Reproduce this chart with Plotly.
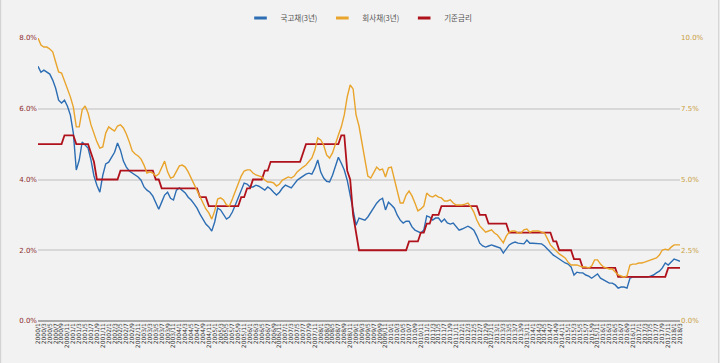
import plotly.graph_objects as go

# ---- data -------------------------------------------------------------
month_labels = [f"{y}/{m}" for y in range(2000, 2019) for m in range(1, 13)][:219]

ktb_3y = [  # 국고채(3년), left axis (%)
    7.20, 7.03, 7.09, 7.03, 6.98, 6.81, 6.58, 6.24, 6.16, 6.24,
    6.07, 5.82, 5.31, 4.27, 4.55, 5.06, 4.97, 4.89, 4.55, 4.10,
    3.84, 3.64, 4.12, 4.44, 4.49, 4.63, 4.77, 5.03, 4.83, 4.52,
    4.35, 4.24, 4.18, 4.12, 4.07, 3.98, 3.79, 3.70, 3.64, 3.53,
    3.33, 3.16, 3.36, 3.56, 3.64, 3.47, 3.42, 3.70, 3.76, 3.70,
    3.62, 3.50, 3.42, 3.31, 3.19, 3.02, 2.88, 2.74, 2.66, 2.54,
    2.80, 3.19, 3.14, 3.02, 2.88, 2.94, 3.08, 3.28, 3.50, 3.70,
    3.90, 3.87, 3.79, 3.79, 3.84, 3.81, 3.76, 3.70, 3.79, 3.73,
    3.64, 3.56, 3.64, 3.76, 3.84, 3.79, 3.76, 3.87, 3.98, 4.04,
    4.10, 4.15, 4.18, 4.15, 4.32, 4.55, 4.21, 4.04, 3.95, 3.93,
    4.12, 4.38, 4.63, 4.46, 4.27, 3.98, 3.56, 3.08, 2.71, 2.91,
    2.88, 2.85, 2.94, 3.08, 3.22, 3.33, 3.42, 3.47, 3.14, 3.36,
    3.28, 3.19, 2.99, 2.85, 2.77, 2.82, 2.82, 2.66, 2.57, 2.54,
    2.49, 2.57, 2.97, 2.94, 2.85, 2.91, 2.91, 2.80, 2.88, 2.77,
    2.74, 2.77, 2.66, 2.57, 2.60, 2.63, 2.68, 2.63, 2.57, 2.40,
    2.20, 2.12, 2.09, 2.12, 2.15, 2.12, 2.09, 2.06, 1.92, 2.03,
    2.15, 2.20, 2.23, 2.20, 2.18, 2.18, 2.29, 2.20, 2.20, 2.20,
    2.20, 2.18, 2.12, 2.03, 1.95, 1.86, 1.81, 1.75, 1.69, 1.64,
    1.61, 1.53, 1.30, 1.38, 1.36, 1.36, 1.30, 1.27, 1.21, 1.27,
    1.33, 1.21, 1.16, 1.10, 1.07, 1.07, 1.02, 0.93, 0.96, 0.96,
    0.93, 1.21, 1.24, 1.24, 1.24, 1.24, 1.24, 1.24, 1.27, 1.30,
    1.36, 1.41, 1.50, 1.64, 1.58, 1.67, 1.75, 1.72, 1.69,
]

corp_3y = [  # 회사채(3년), right axis (%)
    10.00, 9.75, 9.68, 9.68, 9.61, 9.51, 9.15, 8.80, 8.76, 8.48,
    8.20, 7.92, 7.56, 6.86, 6.86, 7.46, 7.60, 7.35, 6.93, 6.61,
    6.33, 6.11, 6.15, 6.64, 6.86, 6.78, 6.71, 6.89, 6.93, 6.82,
    6.61, 6.33, 6.01, 5.90, 5.83, 5.72, 5.51, 5.23, 5.27, 5.23,
    5.12, 5.19, 5.41, 5.65, 5.27, 5.05, 5.09, 5.30, 5.48, 5.51,
    5.44, 5.27, 5.05, 4.84, 4.56, 4.35, 4.17, 3.96, 3.82, 3.60,
    3.89, 4.31, 4.35, 4.28, 4.10, 4.06, 4.31, 4.59, 4.88, 5.12,
    5.30, 5.34, 5.34, 5.23, 5.16, 5.12, 5.09, 4.98, 4.91, 4.91,
    4.88, 4.77, 4.84, 4.98, 5.05, 5.09, 5.05, 5.12, 5.27, 5.37,
    5.44, 5.51, 5.62, 5.76, 6.04, 6.47, 6.40, 6.22, 5.87, 5.76,
    5.94, 6.22, 6.57, 6.86, 7.28, 7.92, 8.34, 8.20, 7.28, 6.89,
    6.33, 5.69, 5.12, 5.05, 5.27, 5.44, 5.34, 5.37, 5.09, 5.41,
    5.44, 4.98, 4.56, 4.17, 4.17, 4.45, 4.59, 4.42, 4.17, 3.89,
    3.96, 4.06, 4.52, 4.42, 4.38, 4.45, 4.38, 4.35, 4.24, 4.24,
    4.28, 4.17, 4.10, 4.10, 4.10, 4.13, 4.17, 4.03, 3.85, 3.57,
    3.36, 3.25, 3.14, 3.18, 3.22, 3.11, 3.04, 2.90, 2.76, 3.00,
    3.14, 3.18, 3.18, 3.11, 3.11, 3.22, 3.25, 3.14, 3.18, 3.18,
    3.18, 3.14, 3.11, 2.90, 2.69, 2.58, 2.47, 2.37, 2.30, 2.23,
    2.08, 1.98, 1.98, 1.98, 1.94, 1.91, 1.91, 1.87, 1.94, 2.16,
    2.16, 2.01, 1.91, 1.87, 1.84, 1.84, 1.73, 1.63, 1.59, 1.55,
    1.59, 1.98, 2.01, 2.01, 2.05, 2.05, 2.08, 2.12, 2.16, 2.19,
    2.23, 2.33, 2.51, 2.54, 2.51, 2.61, 2.69, 2.69, 2.69,
]

base_rate = [  # 기준금리, left axis (%)
    5.00, 5.00, 5.00, 5.00, 5.00, 5.00, 5.00, 5.00, 5.00, 5.25,
    5.25, 5.25, 5.25, 5.00, 5.00, 5.00, 5.00, 5.00, 4.75, 4.50,
    4.00, 4.00, 4.00, 4.00, 4.00, 4.00, 4.00, 4.00, 4.25, 4.25,
    4.25, 4.25, 4.25, 4.25, 4.25, 4.25, 4.25, 4.25, 4.25, 4.25,
    4.00, 4.00, 3.75, 3.75, 3.75, 3.75, 3.75, 3.75, 3.75, 3.75,
    3.75, 3.75, 3.75, 3.75, 3.75, 3.50, 3.50, 3.50, 3.25, 3.25,
    3.25, 3.25, 3.25, 3.25, 3.25, 3.25, 3.25, 3.25, 3.25, 3.50,
    3.50, 3.75, 3.75, 4.00, 4.00, 4.00, 4.00, 4.25, 4.25, 4.50,
    4.50, 4.50, 4.50, 4.50, 4.50, 4.50, 4.50, 4.50, 4.50, 4.50,
    4.75, 5.00, 5.00, 5.00, 5.00, 5.00, 5.00, 5.00, 5.00, 5.00,
    5.00, 5.00, 5.00, 5.25, 5.25, 4.25, 4.00, 3.00, 2.50, 2.00,
    2.00, 2.00, 2.00, 2.00, 2.00, 2.00, 2.00, 2.00, 2.00, 2.00,
    2.00, 2.00, 2.00, 2.00, 2.00, 2.00, 2.25, 2.25, 2.25, 2.25,
    2.50, 2.50, 2.75, 2.75, 3.00, 3.00, 3.00, 3.25, 3.25, 3.25,
    3.25, 3.25, 3.25, 3.25, 3.25, 3.25, 3.25, 3.25, 3.25, 3.25,
    3.00, 3.00, 3.00, 2.75, 2.75, 2.75, 2.75, 2.75, 2.75, 2.75,
    2.50, 2.50, 2.50, 2.50, 2.50, 2.50, 2.50, 2.50, 2.50, 2.50,
    2.50, 2.50, 2.50, 2.50, 2.50, 2.25, 2.25, 2.00, 2.00, 2.00,
    2.00, 2.00, 1.75, 1.75, 1.75, 1.50, 1.50, 1.50, 1.50, 1.50,
    1.50, 1.50, 1.50, 1.50, 1.50, 1.50, 1.50, 1.25, 1.25, 1.25,
    1.25, 1.25, 1.25, 1.25, 1.25, 1.25, 1.25, 1.25, 1.25, 1.25,
    1.25, 1.25, 1.25, 1.25, 1.50, 1.50, 1.50, 1.50, 1.50,
]

series_names = ["국고채(3년)", "회사채(3년)", "기준금리"]
left_ticks = [0, 2, 4, 6, 8]
right_ticks = [0, 2.5, 5, 7.5, 10]

# ---- styling ----------------------------------------------------------
BLUE = "#2c6db3"
ORANGE = "#e9a42b"
RED = "#b0121c"
BG = "#f2f2f2"
FONT = "DejaVu Sans"
KFONT = "Noto Sans CJK KR"

fig = go.Figure()
fig.add_trace(go.Scatter(x=month_labels, y=ktb_3y, mode="lines", showlegend=False,
                         line=dict(color=BLUE, width=1.4), yaxis="y", hoverinfo="skip"))
fig.add_trace(go.Scatter(x=month_labels, y=base_rate, mode="lines", showlegend=False,
                         line=dict(color=RED, width=1.8), yaxis="y", hoverinfo="skip"))
fig.add_trace(go.Scatter(x=month_labels, y=corp_3y, mode="lines", showlegend=False,
                         line=dict(color=ORANGE, width=1.4), yaxis="y2", hoverinfo="skip"))

# legend entries (short thick dash markers, like the reference)
for name, col in zip(series_names, [BLUE, ORANGE, RED]):
    fig.add_trace(go.Scatter(x=[None], y=[None], mode="markers", name=name,
                             marker=dict(symbol="line-ew", size=9, color=col,
                                         line=dict(width=3, color=col))))

n = len(month_labels)
fig.update_layout(
    width=720, height=363,
    margin=dict(l=38, r=40, t=38, b=42, autoexpand=False),
    paper_bgcolor=BG, plot_bgcolor=BG,
    font=dict(family=FONT, size=7, color="#444"),
    showlegend=True,
    legend=dict(orientation="h", x=0.5, xanchor="center",
                yref="container", y=1 - 18 / 363, yanchor="middle",
                font=dict(family=KFONT, size=7.5, color="#555"),
                bgcolor="rgba(0,0,0,0)", itemwidth=30, tracegroupgap=0),
    xaxis=dict(type="category", range=[0, n - 1], showgrid=False, zeroline=False,
               tickmode="array", tickvals=month_labels[::2], ticktext=month_labels[::2],
               tickangle=-90, tickfont=dict(size=6, color="#333", family=FONT),
               ticks="", showline=False, fixedrange=True, automargin=False),
    yaxis=dict(range=[0, 8], tickvals=left_ticks,
               ticktext=[f"{v:.1f}%" for v in left_ticks],
               showgrid=True, gridcolor="#d8d8d8", gridwidth=1.5,
               zeroline=True, zerolinecolor="#a8a8a8", zerolinewidth=2,
               tickfont=dict(size=7, color="#8a2a2a", family=FONT),
               ticks="", showline=False, fixedrange=True, automargin=False),
    yaxis2=dict(range=[0, 10], tickvals=right_ticks,
                ticktext=[f"{v:.1f}%" for v in right_ticks],
                overlaying="y", side="right", showgrid=False, zeroline=False,
                tickfont=dict(size=7, color="#c9a040", family=FONT),
                ticks="", showline=False, fixedrange=True, automargin=False),
)

# thin frame lines at the left and right edges of the image
for xp in (-38 / 642 + 0.001, (720 - 38) / 642 - 0.002):
    fig.add_shape(type="line", xref="paper", yref="paper", x0=xp, x1=xp,
                  y0=-42 / 283, y1=1 + 38 / 283, line=dict(color="#cfcfcf", width=1))

fig.write_html(
    "out.html",
    config={"displayModeBar": False},
    post_script="document.body.style.margin='0';document.body.style.overflow='hidden';"
                "document.body.style.background='#f2f2f2';",
)
